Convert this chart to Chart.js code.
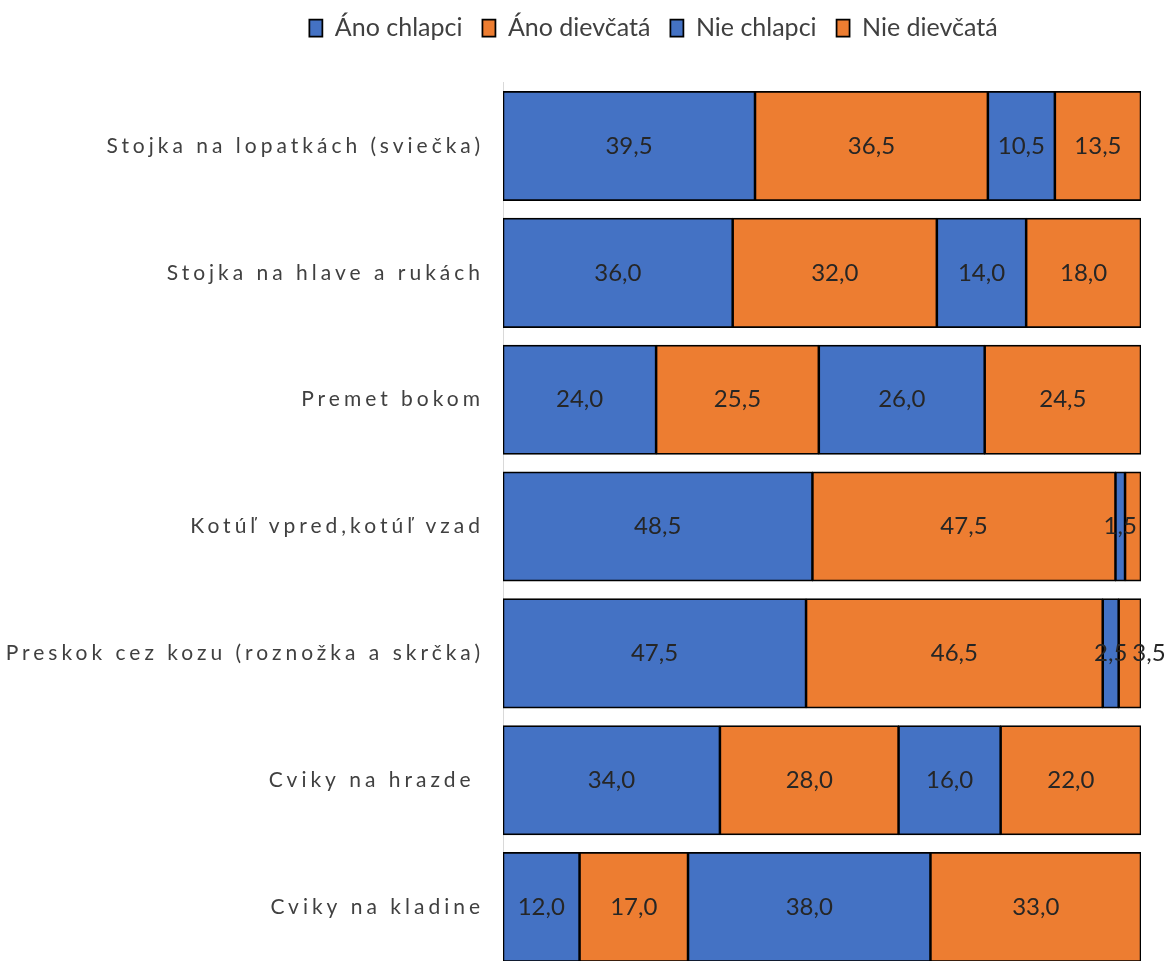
<!DOCTYPE html>
<html><head><meta charset="utf-8">
<script src="https://cdn.jsdelivr.net/npm/chart.js@4"></script>
<style>html,body{margin:0;padding:0;overflow:hidden;background:#fff}canvas{display:block}</style>
</head><body>
<canvas id="c" width="1169" height="1002"></canvas>
<script>
const categories = ["Stojka na lopatkách (sviečka)", "Stojka na hlave a rukách", "Premet bokom", "Kotúľ vpred,kotúľ vzad", "Preskok cez kozu (roznožka a skrčka)", "Cviky na hrazde ", "Cviky na kladine"];
const seriesNames = ["Áno chlapci", "Áno dievčatá", "Nie chlapci", "Nie dievčatá"];
const anoChlapci = [39.5, 36.0, 24.0, 48.5, 47.5, 34.0, 12.0];
const anoDievcata = [36.5, 32.0, 25.5, 47.5, 46.5, 28.0, 17.0];
const nieChlapci = [10.5, 14.0, 26.0, 1.5, 2.5, 16.0, 38.0];
const nieDievcata = [13.5, 18.0, 24.5, 2.5, 3.5, 22.0, 33.0];
const hiddenLabels = [[3, 3]]; // [series, category] labels not shown in the original
const seriesValues = [anoChlapci, anoDievcata, nieChlapci, nieDievcata];
const seriesColors = ['#4472C4', '#ED7D31', '#4472C4', '#ED7D31'];

const FONT = 'Lato';
const LEGEND_EXTRA = 32.17;
const TICK_SPACING = '4px';
const LEGEND_LEFT = 166;

const valueLabels = {
  id: 'valueLabels',
  afterDatasetsDraw(chart) {
    const ctx = chart.ctx;
    ctx.save();
    ctx.font = '24px ' + FONT;
    ctx.fillStyle = '#262626';
    ctx.textAlign = 'center';
    ctx.textBaseline = 'middle';
    for (let i = 0; i < chart.data.labels.length; i++) {
      let prevRight = -Infinity;
      chart.data.datasets.forEach((ds, d) => {
        if (hiddenLabels.some(h => h[0] === d && h[1] === i)) return;
        const el = chart.getDatasetMeta(d).data[i];
        const txt = ds.data[i].toFixed(1).replace('.', ',');
        const w = ctx.measureText(txt).width;
        const c = el.getCenterPoint();
        let x = c.x;
        if (x - w / 2 < prevRight + 5) x = prevRight + 5 + w / 2;
        prevRight = x + w / 2;
        ctx.fillText(txt, x, c.y);
      });
    }
    ctx.restore();
  }
};

const layoutTweaks = {
  id: 'layoutTweaks',
  beforeLayout(chart) {
    const lg = chart.legend;
    if (lg && !lg._patched) {
      const f = lg.fit;
      lg.fit = function () { f.call(this); this.height += LEGEND_EXTRA; };
      lg._patched = true;
    }
  },
  afterLayout(chart) {
    const lg = chart.legend;
    if (lg) { lg.left = LEGEND_LEFT; lg.width = lg.right - lg.left; }
  },
  beforeDraw(chart) {
    const s = chart.scales.y;
    if (s && !s._spaced) {
      const orig = s.drawLabels;
      s.drawLabels = function (area) {
        const ctx = this.ctx;
        ctx.save();
        ctx.letterSpacing = TICK_SPACING;
        orig.call(this, area);
        ctx.restore();
      };
      s._spaced = true;
    }
  }
};

function make() {
  new Chart(document.getElementById('c'), {
    type: 'bar',
    data: {
      labels: categories,
      datasets: seriesNames.map((n, k) => ({
        label: n,
        data: seriesValues[k],
        backgroundColor: seriesColors[k],
        borderColor: '#000',
        borderWidth: 1.75,
        borderSkipped: false,
        inflateAmount: 0.5
      }))
    },
    options: {
      responsive: false,
      animation: false,
      indexAxis: 'y',
      layout: { padding: { left: 0, right: 28, top: -4.5, bottom: 5.27 } },
      datasets: { bar: { categoryPercentage: 1, barPercentage: 0.86 } },
      plugins: {
        legend: {
          position: 'top',
          labels: { font: { family: FONT, size: 25 }, color: '#404040', boxWidth: 13, boxHeight: 17, padding: 20 }
        },
        tooltip: { enabled: false }
      },
      scales: {
        x: { stacked: true, min: 0, max: 100, display: false },
        y: {
          stacked: true,
          grid: { display: false, drawTicks: false },
          border: { display: true, color: '#d9d9d9', width: 1 },
          ticks: { font: { family: FONT, size: 21 }, color: '#404040', padding: 19, autoSkip: false },
          afterFit(s) { s.width = 503; }
        }
      }
    },
    plugins: [valueLabels, layoutTweaks]
  });
}
document.fonts.load('24px ' + FONT).then(make, make);
</script>
</body></html>
